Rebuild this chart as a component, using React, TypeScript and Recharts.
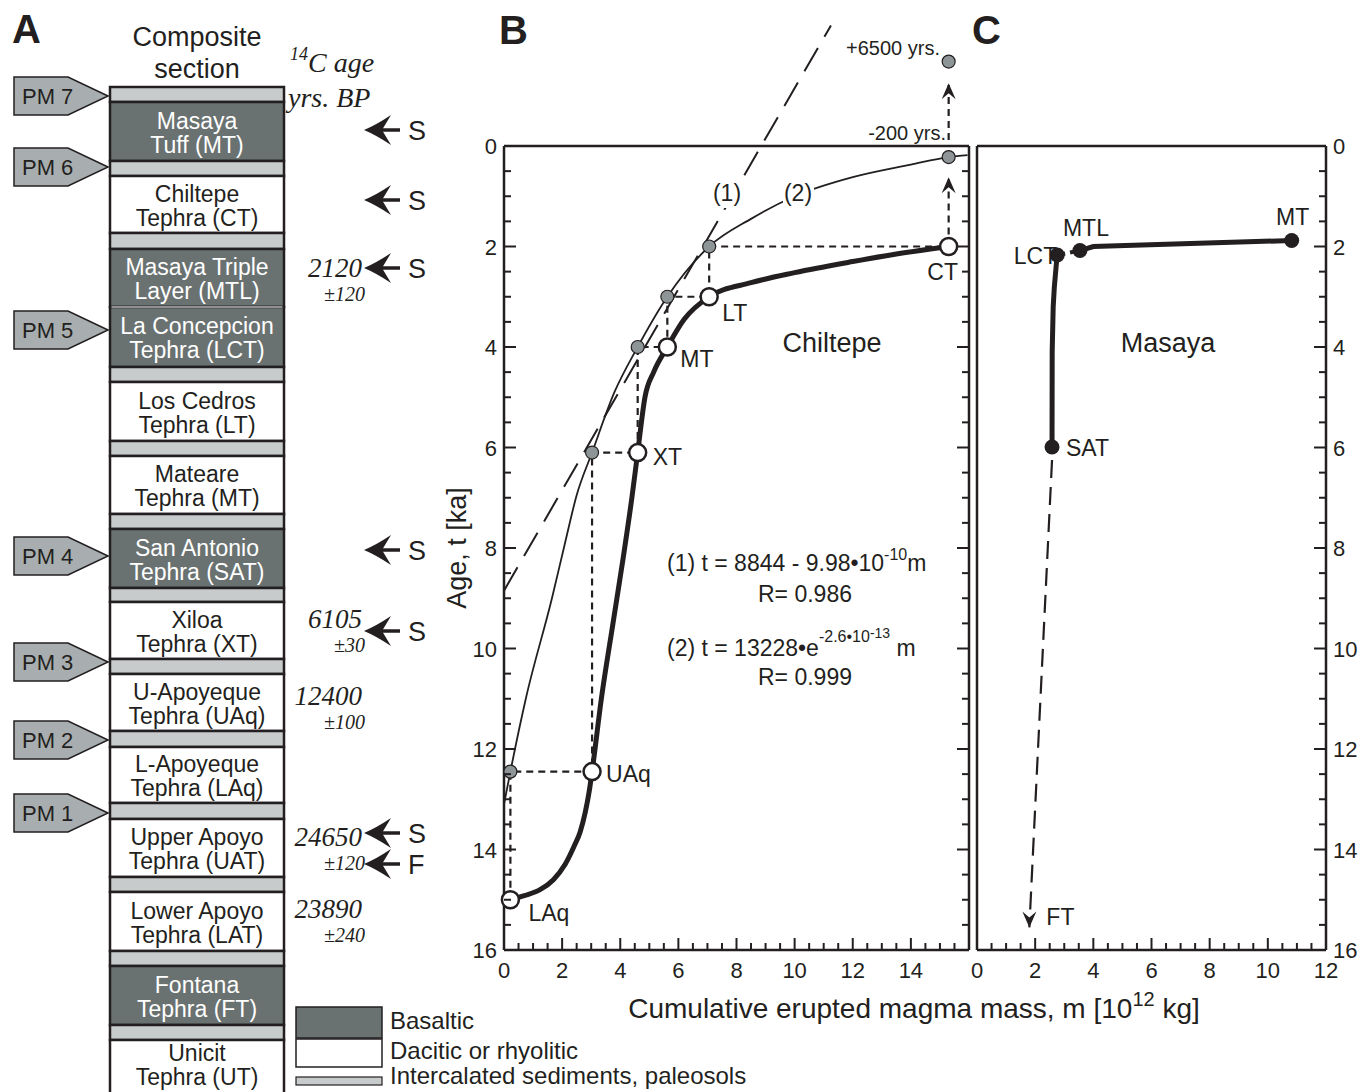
import React from "react";
import { ComposedChart, Bar, Line, Scatter, XAxis, YAxis, ReferenceLine, ReferenceDot } from "recharts";

const INK = "#231f20";
const SANS = '"Liberation Sans", Arial, Helvetica, sans-serif';
const SERIF = '"Liberation Serif", "Times New Roman", Times, serif';
const BASALT = "#6a7271";
const SEDIMENT = "#c7cbcb";
const MARKER_GRAY = "#8e9597";
const PM_GRAY = "#a8aeaf";

// ---------- A: composite section, top to bottom (relative thickness) ----------
const layerNames = [
  "", "Masaya|Tuff (MT)", "", "Chiltepe|Tephra (CT)", "", "Masaya Triple|Layer (MTL)",
  "La Concepcion|Tephra (LCT)", "", "Los Cedros|Tephra (LT)", "", "Mateare|Tephra (MT)", "",
  "San Antonio|Tephra (SAT)", "", "Xiloa|Tephra (XT)", "", "U-Apoyeque|Tephra (UAq)", "",
  "L-Apoyeque|Tephra (LAq)", "", "Upper Apoyo|Tephra (UAT)", "", "Lower Apoyo|Tephra (LAT)", "",
  "Fontana|Tephra (FT)", "", "Unicit|Tephra (UT)",
];
const layerTypes = [
  "sed", "bas", "sed", "dac", "sed", "bas", "bas", "sed", "dac", "sed", "dac", "sed", "bas", "sed",
  "dac", "sed", "dac", "sed", "dac", "sed", "dac", "sed", "dac", "sed", "bas", "sed", "dac",
];
const layerThickness = [15, 59, 15, 57, 16, 58, 60, 15, 59, 15, 58, 15, 59, 14, 57, 15, 57, 16, 56, 16, 58, 15, 59, 15, 59, 15, 60];

const pmLabels = ["PM 7", "PM 6", "PM 5", "PM 4", "PM 3", "PM 2", "PM 1"];
const pmDepths = [9, 80, 243, 469, 575, 653, 726];

const c14Ages = ["2120", "6105", "12400", "24650", "23890"];
const c14Errors = ["±120", "±30", "±100", "±120", "±240"];
const c14Depths = [190, 541, 618, 759, 831];

const sampleLetters = ["S", "S", "S", "S", "S", "S", "F"];
const sampleDepths = [43, 113, 181, 463, 544, 746, 777];

// ---------- B: Chiltepe (m in 10^12 kg, t in ka) ----------
const bNames = ["LAq", "UAq", "XT", "MT", "LT", "CT"];
const bMass = [0.22, 3.03, 4.6, 5.62, 7.06, 15.3];
const bAge = [15.0, 12.45, 6.1, 4.0, 3.0, 2.0];
const bShiftedAge = [12.45, 6.1, 4.0, 3.0, 2.0, 0.22];

const cumMass = [0.22, 0.7, 1.24, 1.7, 2.1, 2.4, 2.62, 2.8, 2.93, 3.03, 3.35, 3.75, 4.1, 4.4, 4.6, 4.85, 5.15, 5.62, 6.2, 7.06, 8.5, 10, 12, 13.5, 15.3];
const cumAge = [15.0, 14.92, 14.8, 14.6, 14.3, 13.95, 13.65, 13.25, 12.85, 12.45, 11.0, 9.5, 8.2, 7.0, 6.1, 5.0, 4.5, 4.0, 3.45, 3.0, 2.72, 2.52, 2.3, 2.15, 2.0];

const fit2Mass = [0, 0.22, 0.75, 1.65, 2.1, 2.5, 3.03, 3.8, 4.6, 5.62, 7.06, 8.5, 10, 12, 14, 15.3, 15.95];
const fit2Age = [13.1, 12.45, 11.0, 9.0, 7.9, 6.95, 6.1, 4.9, 4.0, 3.0, 2.0, 1.45, 1.0, 0.62, 0.37, 0.22, 0.18];

const fit1Mass = [0, 11.25];
const fit1Age = [8.85, -2.4];

const futureMass = 15.3;
const futureAge = -1.68;
const arrowLowAge = [2.0, 0.62];
const arrowHighAge = [-0.12, -1.25];

// ---------- C: Masaya ----------
const cNames = ["SAT", "LCT", "MTL", "MT"];
const cMass = [2.58, 2.76, 3.54, 10.82];
const cAge = [5.99, 2.17, 2.08, 1.88];
const lowerPathMass = [2.58, 2.585, 2.62, 2.66, 2.72, 2.76];
const lowerPathAge = [5.99, 4.1, 3.2, 2.8, 2.4, 2.17];
const upperPathMass = [3.54, 4.0, 10.82];
const upperPathAge = [2.08, 2.0, 1.88];
const ftTrendMass = [2.58, 1.8];
const ftTrendAge = [6.25, 15.55];

// ---------- ticks ----------
const ageTicks = Array.from({ length: 33 }, (_, i) => i * 0.5);
const ageLabels = [0, 2, 4, 6, 8, 10, 12, 14, 16];
const massTicksB = Array.from({ length: 33 }, (_, i) => i * 0.5);
const massLabelsB = [0, 2, 4, 6, 8, 10, 12, 14];
const massTicksC = Array.from({ length: 25 }, (_, i) => i * 0.5);
const massLabelsC = [0, 2, 4, 6, 8, 10, 12];

const zip = (ms: number[], ts: number[]) => ms.map((m, i) => ({ m, t: ts[i] }));

const sectionRow = [
  layerThickness.reduce((row: Record<string, any>, v, i) => ({ ...row, ["L" + i]: v }), { name: "section" }),
];
const sectionTotal = layerThickness.reduce((a, b) => a + b, 0);

const whitePoints = bNames.map((name, i) => ({ name, m: bMass[i], t: bAge[i] }));
const grayPoints = bNames.map((name, i) => ({ name, m: bMass[i], t: bShiftedAge[i] }));
const staircase = whitePoints.flatMap((p, i) => (i < whitePoints.length - 1 ? [p, grayPoints[i]] : [p]));
const cumCurve = zip(cumMass, cumAge);
const fit2Curve = zip(fit2Mass, fit2Age);
const masayaPoints = cNames.map((name, i) => ({ name, m: cMass[i], t: cAge[i] }));

const frame = { stroke: INK, strokeWidth: 2.5 };
const txt = { fontFamily: SANS, fill: INK };

const bLabelPos: Record<string, [number, number, string]> = {
  LAq: [18, 21, "start"],
  UAq: [14, 10, "start"],
  XT: [15, 12, "start"],
  MT: [13, 20, "start"],
  LT: [13, 24, "start"],
  CT: [-6, 33, "middle"],
};
const cLabelPos: Record<string, [number, number, string]> = {
  SAT: [14, 9, "start"],
  LCT: [0, 9, "end"],
  MTL: [6, -15, "middle"],
  MT: [1, -15, "middle"],
};

function makeTick(side: string, labels: number[]) {
  return function TickMark(p: any) {
    const v = Number(p.payload?.value);
    const major = Math.abs(v / 2 - Math.round(v / 2)) < 1e-6;
    const len = major ? 12 : 7;
    const x = p.x;
    const y = p.y;
    let x2 = x;
    let y2 = y;
    if (side === "left") x2 = x + len;
    if (side === "right") x2 = x - len;
    if (side === "top") y2 = y + len;
    if (side === "bottom") y2 = y - len;
    let label = null;
    if (labels.includes(v)) {
      if (side === "left") label = <text x={x - 7} y={y + 8} textAnchor="end" fontSize={22} {...txt}>{v}</text>;
      if (side === "right") label = <text x={x + 7} y={y + 8} textAnchor="start" fontSize={22} {...txt}>{v}</text>;
      if (side === "bottom") label = <text x={x} y={y + 28} textAnchor="middle" fontSize={22} {...txt}>{v}</text>;
    }
    return (
      <g>
        <line x1={x} y1={y} x2={x2} y2={y2} stroke={INK} strokeWidth={2} />
        {label}
      </g>
    );
  };
}

function renderLayer(p: any, i: number) {
  const { x, y, width, height } = p;
  const top = Math.min(y, y + height);
  const h = Math.abs(height);
  const type = layerTypes[i];
  const fill = type === "bas" ? BASALT : type === "sed" ? SEDIMENT : "#ffffff";
  const lines = layerNames[i] ? layerNames[i].split("|") : [];
  const cx = x + width / 2;
  // the lowest layer runs off the page, so its name sits near its top
  const firstBase = i === layerNames.length - 1 ? top + 21 : top + h / 2 - 3;
  const joinsBasalt = type === "bas" && i > 0 && layerTypes[i - 1] === "bas";
  return (
    <g>
      <rect x={x} y={top} width={width} height={h} fill={fill} stroke={INK} strokeWidth={2.5} />
      {joinsBasalt && <line x1={x + 1.5} x2={x + width - 1.5} y1={top} y2={top} stroke="#ffffff" strokeWidth={1.2} />}
      {lines.map((t, k) => (
        <text key={k} x={cx} y={firstBase + k * 24} textAnchor="middle" fontSize={23} fontFamily={SANS} fill={type === "bas" ? "#ffffff" : INK}>
          {t}
        </text>
      ))}
    </g>
  );
}

function renderPm(p: any, label: string) {
  const tip = p.cx - 89;
  const cy = p.cy;
  const pts = `${tip},${cy} ${tip - 40},${cy - 19} ${tip - 94},${cy - 19} ${tip - 94},${cy + 19} ${tip - 40},${cy + 19}`;
  return (
    <g>
      <polygon points={pts} fill={PM_GRAY} stroke={INK} strokeWidth={1.5} />
      <text x={tip - 86} y={cy + 8} fontSize={22} {...txt}>{label}</text>
    </g>
  );
}

function renderAge(p: any, i: number) {
  return (
    <g fontFamily={SERIF} fontStyle="italic" fill={INK}>
      <text x={p.cx + 165} y={p.cy} textAnchor="end" fontSize={27}>{c14Ages[i]}</text>
      <text x={p.cx + 168} y={p.cy + 24} textAnchor="end" fontSize={20}>{c14Errors[i]}</text>
    </g>
  );
}

function renderSample(p: any, letter: string) {
  const tip = p.cx + 167;
  const cy = p.cy;
  const head = `M${tip},${cy} Q${tip + 12},${cy - 5} ${tip + 27},${cy - 15} L${tip + 18},${cy} L${tip + 27},${cy + 15} Q${tip + 12},${cy + 5} ${tip},${cy} Z`;
  return (
    <g>
      <line x1={tip + 15} y1={cy} x2={tip + 36} y2={cy} stroke={INK} strokeWidth={3.5} />
      <path d={head} fill={INK} />
      <text x={tip + 44} y={cy + 10} fontSize={27} {...txt}>{letter}</text>
    </g>
  );
}

function arrowHead(up: boolean) {
  return function Head(p: any) {
    const s = up ? 1 : -1;
    const { cx, cy } = p;
    const d = `M${cx},${cy} L${cx - 7},${cy + s * 16} L${cx},${cy + s * 10} L${cx + 7},${cy + s * 16} Z`;
    return <path d={d} fill={INK} />;
  };
}

function renderWhite(p: any) {
  const [dx, dy, anchor] = bLabelPos[p.payload.name];
  return (
    <g>
      <circle cx={p.cx} cy={p.cy} r={8.5} fill="#ffffff" stroke={INK} strokeWidth={2.5} />
      <text x={p.cx + dx} y={p.cy + dy} textAnchor={anchor as any} fontSize={23} {...txt}>{p.payload.name}</text>
    </g>
  );
}

function renderGray(p: any) {
  return <circle cx={p.cx} cy={p.cy} r={6.5} fill={MARKER_GRAY} stroke={INK} strokeWidth={1.2} />;
}

function renderBlack(p: any) {
  const [dx, dy, anchor] = cLabelPos[p.payload.name];
  return (
    <g>
      <text x={p.cx + dx} y={p.cy + dy} textAnchor={anchor as any} fontSize={23} {...txt}>{p.payload.name}</text>
      <circle cx={p.cx} cy={p.cy} r={7.5} fill={INK} />
    </g>
  );
}

function SectionChart() {
  return (
    <ComposedChart width={440} height={1100} data={sectionRow} margin={{ top: 87, right: 156, bottom: 0, left: 110 }} barCategoryGap={0}>
      <XAxis dataKey="name" type="category" hide />
      <YAxis type="number" domain={[0, sectionTotal]} reversed hide />
      {layerThickness.map((_, i) => (
        <Bar key={"L" + i} dataKey={"L" + i} stackId="col" isAnimationActive={false} shape={(p: any) => renderLayer(p, i)} />
      ))}
      {pmLabels.map((label, i) => (
        <ReferenceDot key={"pm" + i} x="section" y={pmDepths[i]} ifOverflow="visible" shape={(p: any) => renderPm(p, label)} />
      ))}
      {c14Ages.map((_, i) => (
        <ReferenceDot key={"age" + i} x="section" y={c14Depths[i]} ifOverflow="visible" shape={(p: any) => renderAge(p, i)} />
      ))}
      {sampleLetters.map((letter, i) => (
        <ReferenceDot key={"s" + i} x="section" y={sampleDepths[i]} ifOverflow="visible" shape={(p: any) => renderSample(p, letter)} />
      ))}
    </ComposedChart>
  );
}

function ChiltepeChart() {
  return (
    <ComposedChart width={560} height={1092} margin={{ top: 140, right: 5, bottom: 102, left: 24 }}>
      <XAxis xAxisId="b" dataKey="m" type="number" domain={[0, 16]} ticks={massTicksB} interval={0} tickSize={0} tickMargin={0} tickLine={false} axisLine={frame} tick={makeTick("bottom", massLabelsB)} height={40} />
      <XAxis xAxisId="top" orientation="top" type="number" domain={[0, 16]} allowDataOverflow ticks={massTicksB} interval={0} tickSize={0} tickMargin={0} tickLine={false} axisLine={frame} tick={makeTick("top", [])} height={6} />
      <YAxis yAxisId="l" dataKey="t" type="number" domain={[0, 16]} reversed ticks={ageTicks} interval={0} tickSize={0} tickMargin={0} tickLine={false} axisLine={frame} tick={makeTick("left", ageLabels)} width={60} />
      <YAxis yAxisId="r" orientation="right" type="number" domain={[0, 16]} reversed allowDataOverflow ticks={ageTicks} interval={0} tickSize={0} tickMargin={0} tickLine={false} axisLine={frame} tick={makeTick("right", [])} width={6} />

      <ReferenceLine xAxisId="b" yAxisId="l" ifOverflow="visible" segment={[{ x: fit1Mass[0], y: fit1Age[0] }, { x: fit1Mass[1], y: fit1Age[1] }]} stroke={INK} strokeWidth={2} strokeDasharray="27 13" />
      <Line xAxisId="b" yAxisId="l" data={fit2Curve} dataKey="t" type="monotone" stroke={INK} strokeWidth={1.8} dot={false} activeDot={false} isAnimationActive={false} />
      <Line xAxisId="b" yAxisId="l" data={staircase} dataKey="t" type="linear" stroke={INK} strokeWidth={2.2} strokeDasharray="7 5" dot={false} activeDot={false} isAnimationActive={false} />
      <ReferenceLine xAxisId="b" yAxisId="l" ifOverflow="visible" segment={[{ x: futureMass, y: arrowLowAge[0] }, { x: futureMass, y: arrowLowAge[1] }]} stroke={INK} strokeWidth={2.2} strokeDasharray="7 5" />
      <ReferenceLine xAxisId="b" yAxisId="l" ifOverflow="visible" segment={[{ x: futureMass, y: arrowHighAge[0] }, { x: futureMass, y: arrowHighAge[1] }]} stroke={INK} strokeWidth={2.2} strokeDasharray="7 5" />
      <Line xAxisId="b" yAxisId="l" data={cumCurve} dataKey="t" type="monotone" stroke={INK} strokeWidth={5} dot={false} activeDot={false} isAnimationActive={false} />
      <Scatter xAxisId="b" yAxisId="l" data={grayPoints} dataKey="t" isAnimationActive={false} shape={renderGray} />
      <Scatter xAxisId="b" yAxisId="l" data={whitePoints} dataKey="t" isAnimationActive={false} shape={renderWhite} />
      <ReferenceDot xAxisId="b" yAxisId="l" x={futureMass} y={arrowLowAge[1]} ifOverflow="visible" shape={arrowHead(true)} />
      <ReferenceDot xAxisId="b" yAxisId="l" x={futureMass} y={arrowHighAge[1]} ifOverflow="visible" shape={arrowHead(true)} />
      <ReferenceDot xAxisId="b" yAxisId="l" x={futureMass} y={futureAge} r={6.5} fill={MARKER_GRAY} stroke={INK} strokeWidth={1.2} ifOverflow="visible" />
    </ComposedChart>
  );
}

function MasayaChart() {
  return (
    <ComposedChart width={411} height={1092} margin={{ top: 140, right: 5, bottom: 102, left: 7 }}>
      <XAxis xAxisId="b" dataKey="m" type="number" domain={[0, 12]} ticks={massTicksC} interval={0} tickSize={0} tickMargin={0} tickLine={false} axisLine={frame} tick={makeTick("bottom", massLabelsC)} height={40} />
      <XAxis xAxisId="top" orientation="top" type="number" domain={[0, 12]} allowDataOverflow ticks={massTicksC} interval={0} tickSize={0} tickMargin={0} tickLine={false} axisLine={frame} tick={makeTick("top", [])} height={6} />
      <YAxis yAxisId="l" type="number" domain={[0, 16]} reversed allowDataOverflow tick={false} tickLine={false} axisLine={frame} width={10} />
      <YAxis yAxisId="r" orientation="right" dataKey="t" type="number" domain={[0, 16]} reversed ticks={ageTicks} interval={0} tickSize={0} tickMargin={0} tickLine={false} axisLine={frame} tick={makeTick("right", ageLabels)} width={40} />

      <Line xAxisId="b" yAxisId="r" data={zip(ftTrendMass, ftTrendAge)} dataKey="t" type="linear" stroke={INK} strokeWidth={2.2} strokeDasharray="18 9" dot={false} activeDot={false} isAnimationActive={false} />
      <Line xAxisId="b" yAxisId="r" data={zip(lowerPathMass, lowerPathAge)} dataKey="t" type="linear" stroke={INK} strokeWidth={5} dot={false} activeDot={false} isAnimationActive={false} />
      <Line xAxisId="b" yAxisId="r" data={zip([cMass[1], cMass[2]], [cAge[1], cAge[2]])} dataKey="t" type="linear" stroke={INK} strokeWidth={4} strokeDasharray="8 5" dot={false} activeDot={false} isAnimationActive={false} />
      <Line xAxisId="b" yAxisId="r" data={zip(upperPathMass, upperPathAge)} dataKey="t" type="linear" stroke={INK} strokeWidth={5} dot={false} activeDot={false} isAnimationActive={false} />
      <Scatter xAxisId="b" yAxisId="r" data={masayaPoints} dataKey="t" isAnimationActive={false} shape={renderBlack} />
      <ReferenceDot
        xAxisId="b"
        yAxisId="r"
        x={ftTrendMass[1]}
        y={ftTrendAge[1]}
        ifOverflow="visible"
        shape={(p: any) => (
          <g>
            {arrowHead(false)(p)}
            <text x={p.cx + 17} y={p.cy - 2} fontSize={23} {...txt}>FT</text>
          </g>
        )}
      />
    </ComposedChart>
  );
}

function Overlay() {
  return (
    <svg width={1371} height={1092} style={{ position: "absolute", left: 0, top: 0, pointerEvents: "none" }}>
      <g {...txt}>
        <text x={12} y={43} fontSize={40} fontWeight="bold">A</text>
        <text x={499} y={44} fontSize={40} fontWeight="bold">B</text>
        <text x={972} y={44} fontSize={40} fontWeight="bold">C</text>

        <text x={197} y={46} textAnchor="middle" fontSize={27}>Composite</text>
        <text x={197} y={78} textAnchor="middle" fontSize={27}>section</text>
      </g>
      <g fontFamily={SERIF} fontStyle="italic" fill={INK}>
        <text x={290} y={72} fontSize={28}>
          <tspan fontSize={18} dy={-12}>14</tspan>
          <tspan dy={12}>C age</tspan>
        </text>
        <text x={288} y={107} fontSize={28}>yrs. BP</text>
      </g>

      {/* legend of panel A */}
      <rect x={296} y={1007} width={86} height={31} fill={BASALT} stroke={INK} strokeWidth={1.5} />
      <rect x={296} y={1039} width={86} height={28} fill="#ffffff" stroke={INK} strokeWidth={1.5} />
      <rect x={296} y={1077} width={86} height={8} fill={SEDIMENT} stroke={INK} strokeWidth={1.2} />
      <g {...txt} fontSize={24}>
        <text x={390} y={1029}>Basaltic</text>
        <text x={390} y={1059}>Dacitic or rhyolitic</text>
        <text x={390} y={1084}>Intercalated sediments, paleosols</text>
      </g>

      {/* panel B and C annotations */}
      <g {...txt}>
        <text x={466} y={548} textAnchor="middle" fontSize={27} transform="rotate(-90 466 548)">Age, t [ka]</text>
        <text x={914} y={1018} textAnchor="middle" fontSize={28}>
          Cumulative erupted magma mass, m [10
          <tspan fontSize={20} dy={-12}>12</tspan>
          <tspan dy={12}>{"\u00a0kg]"}</tspan>
        </text>
        <text x={832} y={352} textAnchor="middle" fontSize={27}>Chiltepe</text>
        <text x={1168} y={352} textAnchor="middle" fontSize={27}>Masaya</text>

        <rect x={712} y={181} width={31} height={27} fill="#ffffff" />
        <rect x={783} y={181} width={31} height={27} fill="#ffffff" />
        <text x={727} y={201} textAnchor="middle" fontSize={23}>(1)</text>
        <text x={798} y={201} textAnchor="middle" fontSize={23}>(2)</text>

        <text x={946} y={140} textAnchor="end" fontSize={20}>-200 yrs.</text>
        <text x={940} y={55} textAnchor="end" fontSize={20}>+6500 yrs.</text>

        <text x={667} y={571} fontSize={23}>
          (1) t = 8844 - 9.98•10
          <tspan fontSize={16} dy={-11}>-10</tspan>
          <tspan dy={11}>m</tspan>
        </text>
        <text x={805} y={602} textAnchor="middle" fontSize={23}>R= 0.986</text>
        <text x={667} y={656} fontSize={23}>
          (2) t = 13228•e
          <tspan fontSize={16} dy={-14}>-2.6•10</tspan>
          <tspan fontSize={14} dy={-4}>-13</tspan>
          <tspan dy={18}>{"\u00a0m"}</tspan>
        </text>
        <text x={805} y={685} textAnchor="middle" fontSize={23}>R= 0.999</text>
      </g>
    </svg>
  );
}

export default function App() {
  return (
    <div style={{ position: "absolute", left: 0, top: 0, width: 1371, height: 1092, overflow: "hidden", background: "#ffffff" }}>
      <div style={{ position: "absolute", left: 0, top: 0 }}>
        <SectionChart />
      </div>
      <div style={{ position: "absolute", left: 420, top: 0 }}>
        <ChiltepeChart />
      </div>
      <div style={{ position: "absolute", left: 960, top: 0 }}>
        <MasayaChart />
      </div>
      <Overlay />
    </div>
  );
}
